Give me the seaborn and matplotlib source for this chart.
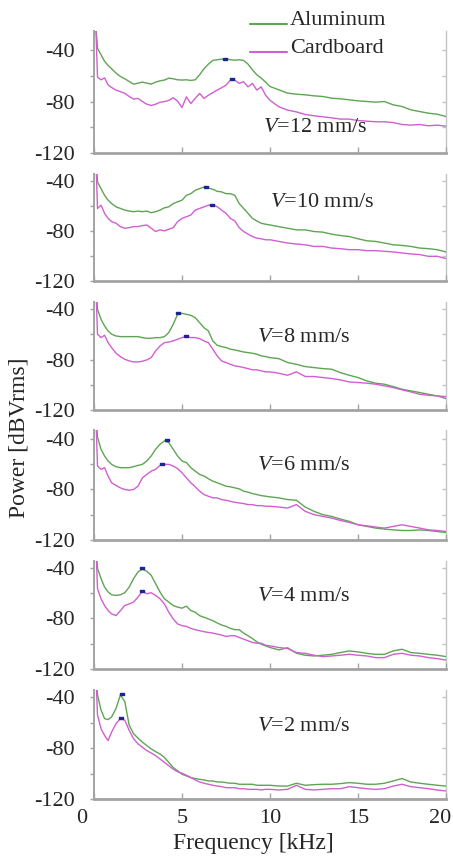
"""Power spectra of aluminum vs cardboard at six sliding speeds."""

import matplotlib

matplotlib.use("Agg")
import matplotlib.pyplot as plt
import seaborn as sns
from matplotlib.lines import Line2D
from matplotlib.path import Path
from matplotlib.transforms import ScaledTranslation

# frequency grid shared by all spectra [kHz]
FREQ = [0.1, 0.2, 0.4, 0.6, 0.8, 1.0,
        1.25, 1.5, 1.75, 2.0, 2.25, 2.5, 2.75, 3.0, 3.25, 3.5, 3.75, 4.0,
        4.25, 4.5, 4.75, 5.0, 5.25, 5.5, 5.75, 6.0, 6.25, 6.5, 6.75, 7.0,
        7.25, 7.5, 7.75, 8.0, 8.25, 8.5, 8.75, 9.0, 9.25, 9.5, 9.75, 10.0,
        10.5, 11.0, 11.5, 12.0, 12.5, 13.0, 13.5, 14.0, 14.5, 15.0,
        15.5, 16.0, 16.5, 17.0, 17.5, 18.0, 18.5, 19.0, 19.5, 20.0]

SPEEDS = [12, 10, 8, 6, 4, 2]

ALU_12 = [-20, -38.5, -43.5, -48.6, -51.8, -54.4, -57.8, -60.4, -62.2, -64.3, -66.4, -65.6,
          -64.8, -65.6, -66.4, -64.8, -63.8, -63.2, -61.7, -62.2, -63.0, -63.2, -63.0, -63.5,
          -63.0, -59.1, -54.4, -50.8, -47.9, -47.4, -46.9, -46.6, -47.4, -47.7, -47.4, -47.9,
          -50.8, -55.2, -59.1, -61.7, -64.8, -68.2,
          -70.8, -73.4, -74.2, -74.7, -75.5, -76.0, -77.3, -77.8, -78.6, -79.4,
          -79.9, -80.4, -79.9, -82.5, -83.8, -86.4, -87.7, -89.0, -89.8, -91.6]
CARD_12 = [-20, -61, -63, -61.5, -67, -69, -71, -72.3, -73.5, -76, -78, -77.5,
           -80, -82, -83, -82, -80.5, -80, -79, -77, -79.6, -84.6, -76.3, -81.5,
           -77.5, -73.6, -77.5, -75, -73, -71, -69.2, -67.2, -63.2, -63.2, -65.8, -64.5,
           -68.5, -65.8, -71, -68.5, -75, -79,
           -84, -86.6, -88, -90, -91, -91.8, -92.6, -93.6, -93.6, -94.7,
           -95.2, -95.7, -95.7, -96.3, -97.8, -98.3, -97.8, -98.8, -98.3, -99.1]

ALU_10 = [-20, -41, -46.3, -51.6, -55.5, -58.2, -60.8, -62.1, -63.4, -64.2, -64.7, -64.2,
          -64.7, -64.2, -65.5, -64.7, -63.4, -61.6, -60.8, -58.2, -56.8, -55.5, -51.6, -50.3,
          -47.6, -46.3, -45.0, -45.8, -46.8, -48.4, -48.9, -50.3, -50.3, -51.6, -58.2, -62.1,
          -66.0, -70.0, -72.1, -73.9, -74.7, -75.3,
          -76.6, -77.9, -79.2, -79.2, -80.5, -81.0, -82.6, -83.7, -84.5, -86.3,
          -87.9, -88.4, -89.7, -91.1, -91.6, -92.4, -93.7, -94.2, -95.0, -96.8]
CARD_10 = [-20, -62.1, -59.5, -66.0, -70.0, -72.6, -73.9, -76.6, -77.9, -77.4, -76.6, -76.6,
           -75.8, -75.3, -77.9, -80.5, -79.2, -80.0, -78.7, -77.4, -72.6, -70.0, -68.7, -67.4,
           -63.4, -62.1, -60.8, -59.5, -59.0, -60.8, -63.4, -66.0, -70.0, -72.1, -77.4, -80.5,
           -82.6, -84.5, -85.8, -86.3, -87.1, -87.1,
           -88.4, -89.7, -90.5, -91.1, -92.4, -92.4, -93.7, -94.2, -95.0, -95.0,
           -95.8, -95.8, -96.3, -96.8, -97.6, -98.4, -98.9, -100.3, -100.3, -102.1]

ALU_8 = [-20, -40, -48, -53.2, -57.2, -59.8, -61.2, -61.7, -61.7, -61.7, -61.7, -61.7,
         -62.5, -63, -63, -62.5, -62.5, -61.7, -58.5, -51.9, -44, -43.2, -44, -44.8,
         -46.6, -50.6, -54.6, -57.2, -65.1, -68.6, -69.6, -70.4, -71.7, -72.3, -73.1, -73.9,
         -74.4, -74.9, -75.7, -77, -77.6, -78.4,
         -79.2, -82.3, -83.7, -85.5, -86.3, -87.1, -87.6, -90.3, -92.4, -94.2,
         -96.9, -98.7, -99.5, -101.4, -103.5, -104.8, -106.1, -107.5, -108.8, -110.9]
CARD_8 = [-20, -59.8, -62.5, -60.6, -66.5, -70.4, -74.9, -77.6, -79.7, -81, -81.8, -81.8,
          -81.3, -80.2, -78.4, -73.1, -69.1, -66.5, -66, -65.1, -63.8, -62.5, -61.7, -62.5,
          -62.5, -63.3, -65.1, -66.5, -71.7, -77, -81, -82.3, -83.7, -85, -85.5, -86.3,
          -87.1, -88.1, -88.1, -88.9, -89.7, -89.7,
          -90.8, -92.4, -89.7, -93.4, -93.4, -94.2, -95, -96.1, -97.7, -98.2,
          -98.7, -99.5, -100.8, -102.2, -104, -105.6, -107.5, -108.3, -108.8, -109.3]

ALU_6 = [-20, -39, -48.5, -53.8, -57.7, -60.4, -62.2, -63, -63, -63, -62.2, -61.2,
         -60.4, -57.7, -53.8, -48.5, -44.5, -41.9, -43.2, -48.5, -53.8, -57.7, -59, -63,
         -65.7, -68.3, -69.6, -71.7, -73.6, -74.9, -76.2, -77.6, -78.1, -78.9, -79.7, -81.5,
         -82.3, -83.4, -84.2, -85, -85.5, -86,
         -86.8, -88.1, -88.7, -94, -97.4, -100, -101.4, -103.5, -105.3, -108,
         -109.3, -110.6, -111.4, -112, -112.5, -112.5, -112, -112.5, -113.3, -114.1]
CARD_6 = [-20, -61.7, -64.3, -63, -69.6, -74.9, -77, -78.9, -80.2, -80.7, -80.2, -77.6,
          -71, -68.3, -65.7, -64.3, -61.2, -60.4, -60.4, -61.7, -63.8, -67, -71, -74.9,
          -78.1, -81.5, -84.2, -85.5, -86.8, -86.8, -88.1, -88.7, -89.5, -90.3, -90.8, -91.3,
          -92.1, -92.1, -92.9, -92.9, -93.4, -93.4,
          -94, -94.8, -92.1, -97.4, -100, -101.4, -102.7, -104.6, -106.1, -108,
          -108.8, -109.8, -110.6, -109.3, -108, -109.3, -110.6, -112, -112.5, -113.3]

ALU_4 = [-20, -40.5, -48.5, -55.2, -59.1, -61.3, -61.8, -61.3, -59.7, -55.2, -48.5, -43.2,
         -41.1, -42.7, -45.9, -52.5, -59.1, -64.5, -67.1, -69.8, -71.1, -71.9, -70.3, -73.8,
         -75.1, -77.8, -79.1, -80.4, -81.8, -83.6, -85.2, -86.3, -87.9, -88.9, -88.9, -91.6,
         -93.7, -95.9, -98.5, -100.4, -101.7, -103,
         -104.9, -103.2, -107.5, -109.1, -109.7, -109.1, -108.4, -107, -105.7, -106.5,
         -107.6, -108.4, -108.4, -105.7, -104.4, -107, -107.6, -108.4, -109.1, -110.2]
CARD_4 = [-20, -56.5, -64.5, -69.8, -73.8, -76.4, -77.8, -73.8, -69.8, -68.5, -67.1, -63.1,
          -58.6, -60.5, -59.7, -61.8, -64.5, -68.5, -75.1, -80.4, -84.4, -85.7, -86.3, -87.9,
          -88.9, -89.7, -90.5, -91.1, -91.6, -92.4, -93.2, -94.3, -93.7, -93.7, -95.1, -96.4,
          -97.7, -99, -99.6, -99.6, -101.2, -101.7,
          -103, -103.8, -107, -107.6, -109.1, -110.2, -109.7, -109.1, -108.4, -109.1,
          -109.7, -111, -111, -108.4, -107.6, -109.1, -109.7, -111, -111.8, -112.9]

ALU_2 = [-20, -38, -50, -56.7, -57.5, -55.4, -48.8, -38.1, -43.4, -62, -68.6, -72.1,
         -75.3, -77.9, -80.6, -82.7, -84.6, -87.2, -91.2, -95.2, -97.8, -100.5, -101.8, -103.1,
         -103.9, -104.5, -105, -105.8, -105.8, -106.6, -106.6, -107.1, -107.6, -107.6, -108.4, -108.4,
         -108.4, -108.4, -109.2, -109.2, -109.2, -109.2,
         -109.8, -109.8, -107.6, -109.2, -108.7, -108.4, -108.4, -107.9, -107.1, -107.6,
         -108.4, -108.4, -107.6, -105.8, -103.9, -106.6, -107.6, -108.4, -109.2, -109.8]
CARD_2 = [-20, -54, -64.7, -70, -74, -67.3, -60.7, -56.7, -58, -66, -72.6, -76.6,
          -79.3, -81.9, -83.8, -85.9, -88.5, -91.2, -93.8, -96.5, -98.6, -99.7, -101.3, -103.1,
          -105, -106.6, -107.6, -108.4, -109.2, -109.8, -110.3, -111.1, -111.1, -111.1, -111.9, -111.9,
          -112.4, -112.4, -112.4, -112.9, -112.4, -112.4,
          -112.9, -112.4, -109.2, -112.4, -112.9, -112.4, -111.9, -111.9, -110.3, -111.1,
          -111.9, -112.4, -111.9, -109.8, -108.4, -110.3, -111.1, -111.9, -112.9, -113.7]

ALUMINUM = [ALU_12, ALU_10, ALU_8, ALU_6, ALU_4, ALU_2]
CARDBOARD = [CARD_12, CARD_10, CARD_8, CARD_6, CARD_4, CARD_2]

# detected peaks (frequency kHz, power dB)
PEAK_ALU_F = [7.45, 6.35, 4.8, 4.13, 2.71, 1.57]
PEAK_ALU_DB = [-46.6, -45.0, -42.6, -41.0, -40.5, -37.3]
PEAK_CARD_F = [7.84, 6.73, 5.25, 3.88, 2.71, 1.51]
PEAK_CARD_DB = [-62.1, -59.0, -61.2, -60.4, -58.6, -56.2]

GREEN = "#5ea553"
MAGENTA = "#d060d0"
NAVY = "#1c2590"
SPINE = "#a3a3a3"
SPINE_LIGHT = "#c4c4c4"

W, H = 453, 860
LEFT, RIGHT = 94, 446
# panel (top, bottom) in pixels and y-limit top
PANELS = [(31, 153, -25.0), (174, 281, -34.6), (302, 410, -34.2),
          (430, 540, -33.3), (561, 669, -34.6), (690, 799, -34.2)]
V_POS = [(0.480, 0.205), (0.500, 0.738), (0.463, 0.667),
         (0.463, 0.673), (0.463, 0.667), (0.463, 0.661)]

RECT = Path([(-1, -0.5), (1, -0.5), (1, 0.5), (-1, 0.5), (-1, -0.5)])


def configure_style() -> None:
    sns.set_theme(style="ticks")
    plt.rcParams.update(
        {
            "font.family": ["Liberation Serif", "DejaVu Serif"],
            "mathtext.fontset": "custom",
            "mathtext.rm": "Liberation Serif",
            "mathtext.it": "Liberation Serif:italic",
            "axes.unicode_minus": False,
            "font.size": 16,
            "xtick.labelsize": 16,
            "ytick.labelsize": 16,
        }
    )


def style_axis(ax, ytop: float, bottom_row: bool) -> None:
    ax.set_xlim(0, 20)
    ax.set_ylim(-120, ytop)
    ax.set_xticks([0, 5, 10, 15, 20])
    ax.set_yticks([-120, -80, -40])
    ax.set_yticks([-100, -60], minor=True)
    ax.tick_params(axis="x", direction="in", length=4, width=1, color=SPINE, pad=7)
    ax.tick_params(axis="y", which="both", direction="out", length=3, width=1,
                   color=SPINE, pad=10.5)
    ax.set_xlabel("")
    ax.set_ylabel("")
    ax.spines["top"].set_visible(False)
    ax.spines["right"].set_visible(False)
    ax.spines["left"].set_color(SPINE)
    ax.spines["left"].set_linewidth(1.4)
    ax.spines["bottom"].set_color(SPINE)
    ax.spines["bottom"].set_linewidth(2.0)

    # thin right frame with small inward ticks
    sec = ax.secondary_yaxis("right")
    sec.set_yticks([-100, -80, -60, -40])
    sec.tick_params(direction="in", length=3, width=1, color=SPINE_LIGHT, labelright=False)
    sec.spines["right"].set_color(SPINE_LIGHT)
    sec.spines["right"].set_linewidth(1.0)

    if not bottom_row:
        ax.set_xticklabels([])


def main() -> None:
    configure_style()
    fig = plt.figure(figsize=(W / 100, H / 100), dpi=100)

    for i, speed in enumerate(SPEEDS):
        top, bottom, ytop = PANELS[i]
        ax = fig.add_axes([LEFT / W, 1 - bottom / H, (RIGHT - LEFT) / W, (bottom - top) / H])

        sns.lineplot(x=FREQ, y=ALUMINUM[i], ax=ax, color=GREEN, linewidth=1.0,
                     errorbar=None, legend=False)
        sns.lineplot(x=FREQ, y=CARDBOARD[i], ax=ax, color=MAGENTA, linewidth=1.0,
                     errorbar=None, legend=False)
        ax.plot([PEAK_ALU_F[i]], [PEAK_ALU_DB[i]], ls="none", marker=RECT, ms=3.5, color=NAVY)
        ax.plot([PEAK_CARD_F[i]], [PEAK_CARD_DB[i]], ls="none", marker=RECT, ms=3.5, color=NAVY)

        style_axis(ax, ytop, bottom_row=(i == len(SPEEDS) - 1))
        vx, vy = V_POS[i]
        ax.text(vx, vy, f"$V$={speed} mm/s", transform=ax.transAxes,
                ha="left", va="center", fontsize=16)

        if i == len(SPEEDS) - 1:
            labels = ax.get_xticklabels()
            for lbl, dx in [(labels[0], -0.12), (labels[-1], -0.06)]:
                lbl.set_transform(lbl.get_transform()
                                  + ScaledTranslation(dx, 0, fig.dpi_scale_trans))

    # legend drawn above the first panel, line sitting on the text baseline
    for label, color, y in [("Aluminum", GREEN, 24), ("Cardboard", MAGENTA, 52)]:
        fig.add_artist(Line2D([250 / W, 287 / W], [1 - y / H, 1 - y / H],
                              transform=fig.transFigure, color=color, lw=1.5))
        fig.text(290 / W, 1 - (y + 1) / H, label, ha="left", va="baseline", fontsize=16)

    fig.text(19 / W, 1 - 438 / H, "Power [dBVrms]", rotation=90,
             ha="center", va="center", fontsize=17)
    fig.text(253 / W, 1 - 844 / H, "Frequency [kHz]", ha="center", va="center", fontsize=17)

    fig.savefig("out.png", dpi=100)
    plt.close(fig)


if __name__ == "__main__":
    main()
